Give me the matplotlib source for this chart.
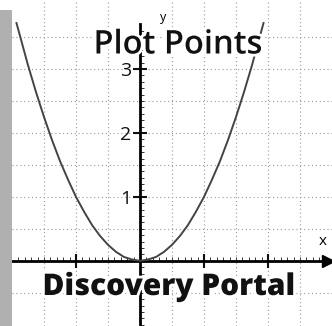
import matplotlib
matplotlib.use('Agg')
import numpy as np
import matplotlib.pyplot as plt
import matplotlib.patheffects as pe
from matplotlib.patches import Rectangle
from matplotlib.ticker import FixedLocator

# points of the parabola
xs = [-1.93, -1.75, -1.625, -1.5, -1.375, -1.25, -1.125, -1.0, -0.875, -0.75,
      -0.625, -0.5, -0.375, -0.25, -0.125, 0.0, 0.125, 0.25, 0.375, 0.5,
      0.625, 0.75, 0.875, 1.0, 1.125, 1.25, 1.375, 1.5, 1.625, 1.75, 1.93]
ys = [3.72, 3.06, 2.64, 2.25, 1.89, 1.56, 1.27, 1.0, 0.77, 0.56,
      0.39, 0.25, 0.14, 0.06, 0.02, 0.0, 0.02, 0.06, 0.14, 0.25,
      0.39, 0.56, 0.77, 1.0, 1.27, 1.56, 1.89, 2.25, 2.64, 3.06, 3.72]

y_ticks = [1, 2, 3]
y_ticklabels = ['1', '2', '3']
x_ticks = [-1, 1, 2]

title = 'Plot Points'
caption = 'Discovery Portal'

plt.rcParams['font.family'] = ['Open Sans', 'DejaVu Sans']

fig = plt.figure(figsize=(3.32, 3.26), dpi=100)
ax = fig.add_axes([12 / 332, 0, 320 / 332, 1])
ax.set_xlim(-2.0, 3.0)
ax.set_ylim(-1.02, 4.08)

# dotted grid every half unit
for g in [-1.5, -1.0, -0.5, 0.5, 1.0, 1.5, 2.0, 2.5]:
    ax.axvline(g, color='#999999', lw=0.8, ls=(0, (1, 2.5)), zorder=1)
for g in [-0.5, 0.5, 1.0, 1.5, 2.0, 2.5, 3.0, 3.5]:
    ax.axhline(g, color='#999999', lw=0.8, ls=(0, (1, 2.5)), zorder=1)

ax.plot(xs, ys, color='#444444', lw=1.4, zorder=3)

for s in ['top', 'right']:
    ax.spines[s].set_visible(False)
ax.spines['left'].set_position(('data', 0))
ax.spines['bottom'].set_position(('data', 0))
ax.spines['left'].set_linewidth(2)
ax.spines['bottom'].set_linewidth(2)
ax.spines['left'].set_bounds(-1.02, 3.7)
ax.spines['bottom'].set_bounds(-2.0, 2.9)
ax.set_facecolor('white')

ax.set_yticks(y_ticks)
ax.set_yticklabels(y_ticklabels)
ax.set_xticks(x_ticks)
ax.set_xticklabels([])
ax.yaxis.set_minor_locator(FixedLocator(np.arange(-1.0, 3.65, 0.1)))
ax.xaxis.set_minor_locator(FixedLocator(np.arange(-1.9, 2.85, 0.1)))
ax.tick_params(which='major', direction='inout', length=10, width=1.5,
               labelsize=14, pad=1, colors='#111111')
ax.tick_params(which='minor', direction='in', length=3, width=0.7, colors='#333333')

ax.plot([2.93], [0], marker='>', color='black', markersize=8, clip_on=False, zorder=4)
ax.text(2.85, 0.3, 'x', fontsize=11, ha='center', va='center')
ax.text(0.36, 3.8, 'y', fontsize=9, ha='center', va='center')

halo = [pe.withStroke(linewidth=4, foreground='white')]
fig.text(178 / 332, 1 - 45 / 326, title, fontsize=23.5, fontweight='semibold',
         color='#111111', ha='center', va='center', path_effects=halo, zorder=10)
fig.text(169 / 332, 1 - 287 / 326, caption, fontsize=21.5, fontweight='heavy',
         color='#111111', ha='center', va='center', path_effects=halo, zorder=10)

# scanned gray margin on the left
fig.patches.append(Rectangle((0, 0), 12 / 332, 1 - 10 / 326, transform=fig.transFigure,
                             facecolor='#b0b0b0', edgecolor='none'))

fig.savefig('out.png', dpi=100)
